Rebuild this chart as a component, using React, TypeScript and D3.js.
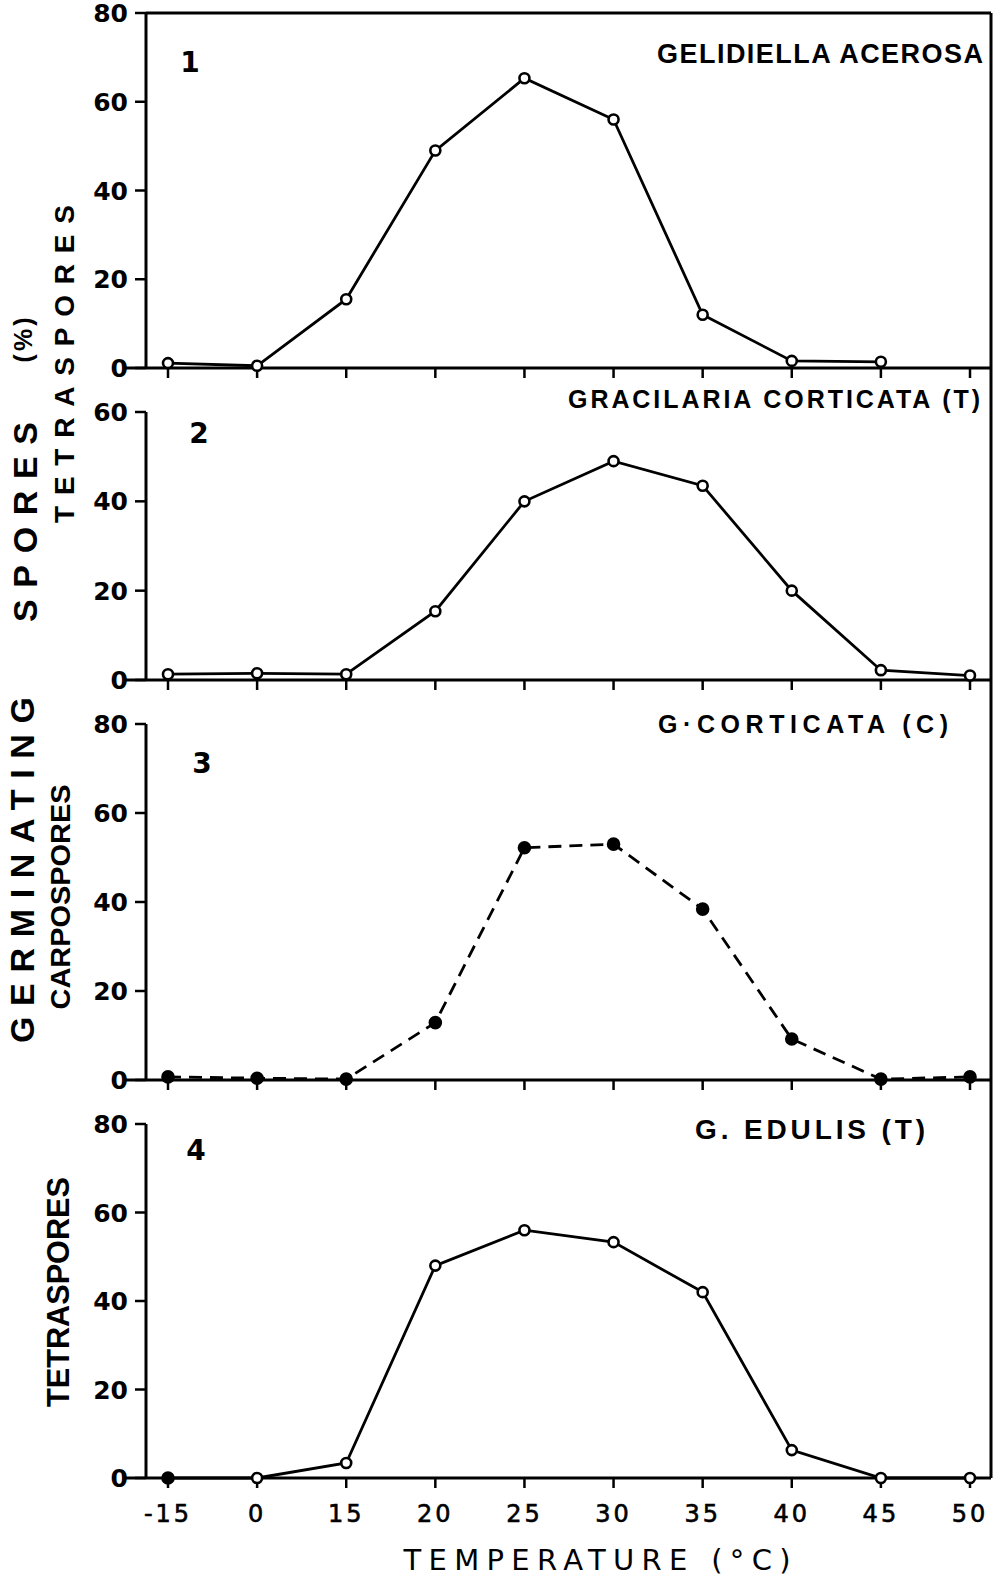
import React from 'react';
import * as d3 from 'd3';

// Temperature categories (°C), evenly spaced on the axis
const temps = ['-15', '0', '15', '20', '25', '30', '35', '40', '45', '50'];

// % germinating spores (null = no point)
const gelidiellaT = [1.1, 0.5, 15.5, 49, 65.3, 56, 12, 1.6, 1.4, null];
const gracilariaT = [1.3, 1.5, 1.3, 15.4, 40, 49, 43.5, 20, 2.2, 1];
const corticataC = [0.7, 0.4, 0.2, 12.9, 52.2, 53, 38.4, 9.2, 0.2, 0.7];
const edulisT = [0, 0, 3.4, 48, 56, 53.3, 42, 6.3, 0, 0];
const edulisFilled = [true, false, false, false, false, false, false, false, false, false];

const ticks80 = [0, 20, 40, 60, 80];
const ticks60 = [0, 20, 40, 60];

const panelTitles = ['GELIDIELLA ACEROSA', 'GRACILARIA CORTICATA  (T)', 'G·CORTICATA   (C)', 'G. EDULIS  (T)'];
const panelNumbers = ['1', '2', '3', '4'];

const W = 995;
const H = 1577;
const LEFT = 146;
const RIGHT = 991;
const FONT = '"DejaVu Sans", sans-serif';
const TITLE_FONT = '"Liberation Sans", Arial, sans-serif';

interface Panel {
  values: (number | null)[];
  filled: boolean[];
  dashed: boolean;
  ticks: number[];
  top: number;
  bottom: number;
  title: string;
  titleEnd: number;
  titleLen: number;
  titleBase: number;
  titleSize: number;
  num: string;
  numX: number;
  numBase: number;
}

const panels: Panel[] = [
  {
    values: gelidiellaT, filled: temps.map(() => false), dashed: false, ticks: ticks80,
    top: 13, bottom: 368, title: panelTitles[0], titleEnd: 983, titleLen: 326, titleBase: 63, titleSize: 27,
    num: panelNumbers[0], numX: 190, numBase: 72,
  },
  {
    values: gracilariaT, filled: temps.map(() => false), dashed: false, ticks: ticks60,
    top: 412, bottom: 680, title: panelTitles[1], titleEnd: 980, titleLen: 412, titleBase: 408, titleSize: 25,
    num: panelNumbers[1], numX: 199, numBase: 443,
  },
  {
    values: corticataC, filled: temps.map(() => true), dashed: true, ticks: ticks80,
    top: 724, bottom: 1080, title: panelTitles[2], titleEnd: 948, titleLen: 290, titleBase: 733, titleSize: 25,
    num: panelNumbers[2], numX: 202, numBase: 773,
  },
  {
    values: edulisT, filled: edulisFilled, dashed: false, ticks: ticks80,
    top: 1124, bottom: 1478, title: panelTitles[3], titleEnd: 925, titleLen: 230, titleBase: 1139, titleSize: 28,
    num: panelNumbers[3], numX: 196, numBase: 1160,
  },
];

const x = d3.scalePoint<string>().domain(temps).range([168, 970]);

const PanelView: React.FC<{ p: Panel; last: boolean }> = ({ p, last }) => {
  const max = p.ticks[p.ticks.length - 1];
  const y = d3.scaleLinear().domain([0, max]).range([p.bottom, p.top]);
  const pts = temps.map((t, i) => ({ t, v: p.values[i], f: p.filled[i] }));
  const line = d3.line<{ t: string; v: number | null }>()
    .defined(d => d.v !== null)
    .x(d => x(d.t) as number)
    .y(d => y(d.v as number));

  return (
    <g>
      {/* y axis */}
      <line x1={LEFT} x2={LEFT} y1={p.top} y2={p.bottom} stroke="#000" strokeWidth={3} />
      {p.ticks.map(t => (
        <g key={t}>
          <line x1={LEFT - 11} x2={LEFT} y1={y(t)} y2={y(t)} stroke="#000" strokeWidth={2.5} />
          <text x={128} y={y(t)} dy="0.36em" textAnchor="end" fontFamily={FONT} fontWeight="bold" fontSize={25}>{t}</text>
        </g>
      ))}
      {/* x axis */}
      <line x1={123} x2={RIGHT} y1={p.bottom} y2={p.bottom} stroke="#000" strokeWidth={3} />
      {temps.map(t => (
        <line key={t} x1={x(t)} x2={x(t)} y1={p.bottom} y2={p.bottom + 10} stroke="#000" strokeWidth={2.5} />
      ))}
      {last && temps.map(t => (
        <text key={t} x={x(t)} y={1522} textAnchor="middle" fontFamily={FONT} fontSize={24} letterSpacing={3}
          stroke="#000" strokeWidth={0.6}>{t}</text>
      ))}
      {/* series */}
      <path d={line(pts) || ''} fill="none" stroke="#000" strokeWidth={2.8}
        strokeDasharray={p.dashed ? '13,8' : undefined} />
      {pts.filter(d => d.v !== null).map(d => (
        <circle key={d.t} cx={x(d.t)} cy={y(d.v as number)} r={d.f ? 5.5 : 5}
          fill={d.f ? '#000' : '#fff'} stroke="#000" strokeWidth={2.6} />
      ))}
      {/* titles */}
      <text x={p.titleEnd} y={p.titleBase} textAnchor="end" fontFamily={TITLE_FONT} fontWeight="bold"
        fontSize={p.titleSize} textLength={p.titleLen} lengthAdjust="spacing">{p.title}</text>
      <text x={p.numX} y={p.numBase} textAnchor="middle" fontFamily={FONT} fontWeight="bold" fontSize={28}>{p.num}</text>
    </g>
  );
};

const VLabel: React.FC<{ cx: number; cy: number; len: number; size: number; text: string; squeeze?: boolean }> =
  ({ cx, cy, len, size, text, squeeze = false }) => (
    <text transform={`translate(${cx},${cy}) rotate(-90)`} textAnchor="middle" dy="0.36em"
      fontFamily={TITLE_FONT} fontWeight="bold" fontSize={size}
      textLength={len} lengthAdjust={squeeze ? 'spacingAndGlyphs' : 'spacing'}>{text}</text>
  );

export default function App() {
  return (
    <svg width={W} height={H} viewBox={`0 0 ${W} ${H}`}
      style={{ position: 'absolute', left: 0, top: 0, background: '#fff' }}>
      <rect width={W} height={H} fill="#fff" />
      {/* frame: top and right border */}
      <line x1={LEFT} x2={RIGHT} y1={13} y2={13} stroke="#000" strokeWidth={3} />
      <line x1={RIGHT} x2={RIGHT} y1={13} y2={1478} stroke="#000" strokeWidth={3} />
      {panels.map((p, i) => <PanelView key={i} p={p} last={i === panels.length - 1} />)}

      {/* outer y title */}
      <VLabel cx={22} cy={870} len={346} size={34} text="GERMINATING" />
      <VLabel cx={25} cy={522} len={200} size={34} text="SPORES" />
      <VLabel cx={23} cy={340} len={45} size={25} text="(%)" />
      {/* inner y titles */}
      <VLabel cx={64} cy={364} len={318} size={28} text="TETRASPORES" />
      <VLabel cx={60} cy={897} len={225} size={28} text="CARPOSPORES" squeeze />
      <VLabel cx={57} cy={1292} len={230} size={32} text="TETRASPORES" squeeze />

      <text x={597} y={1570} textAnchor="middle" fontFamily={FONT} fontSize={29}
        textLength={387} lengthAdjust="spacing">TEMPERATURE (°C)</text>
    </svg>
  );
}
